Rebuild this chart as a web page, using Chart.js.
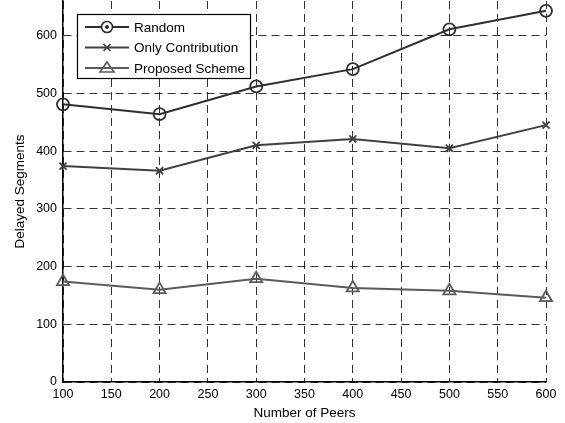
<!DOCTYPE html>
<html>
<head>
<meta charset="utf-8">
<script src="https://cdn.jsdelivr.net/npm/chart.js@4.4.0/dist/chart.umd.min.js"></script>
<style>
  html, body { margin: 0; padding: 0; background: #fff; }
  #wrap { width: 565px; height: 423px; }
</style>
</head>
<body>
<div id="wrap"><canvas id="my-chart" width="565" height="423"></canvas></div>
<script>
const peers = [100, 200, 300, 400, 500, 600];
const randomData = [481, 464, 512, 542, 611, 643];
const contributionData = [374, 366, 410, 421, 405, 445];
const proposedData = [174, 160, 179, 163, 158, 146];

const seriesNames = ["Random", "Only Contribution", "Proposed Scheme"];
const seriesColors = ["#2e2e2e", "#404040", "#5a5a5a"];

const FONT = "'Liberation Sans', Arial, sans-serif";

// legend drawn inside the plot, like the original
const innerLegend = {
  id: "innerLegend",
  afterDraw(chart) {
    const ctx = chart.ctx;
    const x0 = 77, y0 = 14, w = 173, h = 64;
    ctx.save();
    ctx.fillStyle = "#fff";
    ctx.fillRect(x0, y0, w, h);
    ctx.strokeStyle = "#000";
    ctx.lineWidth = 1.2;
    ctx.strokeRect(x0 + 0.5, y0 + 0.5, w, h);
    ctx.font = "13.5px " + FONT;
    ctx.textBaseline = "middle";
    chart.data.datasets.forEach((ds, i) => {
      const y = y0 + 13 + i * 20.5;
      ctx.strokeStyle = ds.borderColor;
      ctx.lineWidth = 2;
      ctx.beginPath();
      ctx.moveTo(x0 + 8, y);
      ctx.lineTo(x0 + 52, y);
      ctx.stroke();
      const mx = x0 + 30;
      ctx.lineWidth = 1.6;
      if (i === 0) {
        ctx.beginPath();
        ctx.arc(mx, y, 5.5, 0, Math.PI * 2);
        ctx.fillStyle = "#fff";
        ctx.fill();
        ctx.stroke();
        ctx.beginPath();
        ctx.arc(mx, y, 2, 0, Math.PI * 2);
        ctx.fillStyle = ds.borderColor;
        ctx.fill();
      } else if (i === 1) {
        ctx.beginPath();
        ctx.moveTo(mx - 3.5, y - 3.5); ctx.lineTo(mx + 3.5, y + 3.5);
        ctx.moveTo(mx - 3.5, y + 3.5); ctx.lineTo(mx + 3.5, y - 3.5);
        ctx.stroke();
      } else {
        ctx.beginPath();
        ctx.moveTo(mx, y - 6); ctx.lineTo(mx + 7, y + 4); ctx.lineTo(mx - 7, y + 4);
        ctx.closePath();
        ctx.stroke();
      }
      ctx.fillStyle = "#000";
      ctx.fillText(ds.label, x0 + 57, y + 1);
    });
    ctx.restore();
  }
};

const makeSet = (i, values, style, radius) => ({
  label: seriesNames[i],
  data: values.map((v, k) => ({ x: peers[k], y: v })),
  borderColor: seriesColors[i],
  backgroundColor: "rgba(0,0,0,0)",
  borderWidth: 2,
  pointStyle: style,
  pointRadius: radius,
  pointBorderWidth: 1.8,
  pointBorderColor: seriesColors[i],
  pointBackgroundColor: "rgba(0,0,0,0)",
  tension: 0,
  clip: false,
});

const chartConfig = {
  type: "line",
  data: {
    datasets: [
      makeSet(0, randomData, "circle", 6),
      makeSet(1, contributionData, "crossRot", 5),
      makeSet(2, proposedData, "triangle", 7),
    ],
  },
  options: {
    responsive: false,
    animation: false,
    layout: { autoPadding: false, padding: { top: 1, right: 19, bottom: 0, left: 0 } },
    plugins: { legend: { display: false }, tooltip: { enabled: false } },
    scales: {
      x: {
        type: "linear",
        min: 100,
        max: 600,
        ticks: { stepSize: 50, color: "#000", padding: 5, font: { family: FONT, size: 12.5 } },
        grid: { color: "#333", lineWidth: 1, drawTicks: false },
        border: { color: "#000", width: 1.5, dash: [8, 5] },
        title: { display: true, text: "Number of Peers", color: "#000", padding: { top: 2, bottom: 2 }, font: { family: FONT, size: 13.5 } },
        afterFit(scale) {
          scale.height = 41;
          scale.paddingLeft = 0;
          scale.paddingRight = 0;
        },
      },
      y: {
        min: 0,
        max: 660,
        ticks: { stepSize: 100, includeBounds: false, color: "#000", padding: 6, font: { family: FONT, size: 12.5 } },
        grid: { color: "#333", lineWidth: 1, drawTicks: false },
        border: { color: "#000", width: 1.5, dash: [8, 5] },
        title: { display: true, text: "Delayed Segments", color: "#000", padding: { top: 12, bottom: 0 }, font: { family: FONT, size: 13.5 } },
        afterFit(scale) {
          scale.width = 63;
          scale.paddingTop = 0;
          scale.paddingBottom = 0;
        },
      },
    },
  },
  plugins: [innerLegend],
};

const myChart = new Chart(document.getElementById("my-chart"), chartConfig);
</script>
</body>
</html>
